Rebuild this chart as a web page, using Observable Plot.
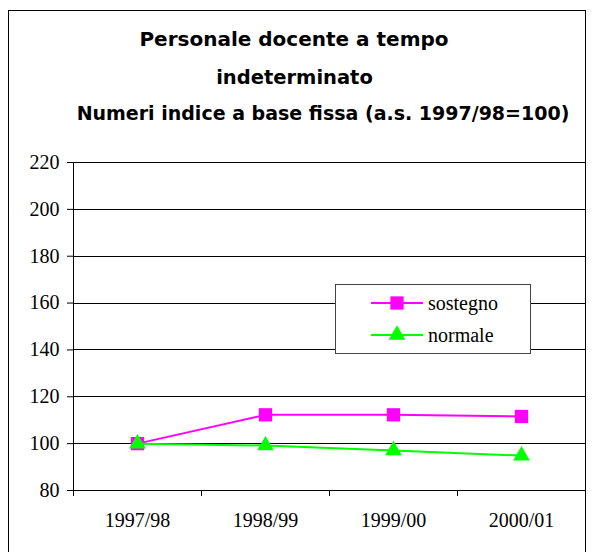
<!DOCTYPE html>
<html>
<head>
<meta charset="utf-8">
<script src="https://cdn.jsdelivr.net/npm/d3@7"></script>
<script src="https://cdn.jsdelivr.net/npm/@observablehq/plot@0.6"></script>
<style>
  html, body { margin: 0; padding: 0; background: #fff; }
  body { width: 593px; height: 552px; overflow: hidden; position: relative; }
  #frame { position: absolute; left: 8px; top: 10px; width: 576px; height: 560px; border: 1px solid #000; box-sizing: content-box; }
  .t { position: absolute; font-family: "DejaVu Sans", sans-serif; font-weight: bold; color: #000; white-space: nowrap; line-height: normal; }
  #chart { position: absolute; left: 0; top: 140px; }
  #legend { position: absolute; left: 335px; top: 284px; width: 194px; height: 68px; border: 1px solid #444; background: #fff;
            font-family: "Liberation Serif", serif; font-size: 20px; color: #000; }
  #legend .row { position: absolute; left: 0; height: 24px; }
  #legend svg { position: absolute; left: 35px; top: 0; }
  #legend span { position: absolute; left: 92px; top: 0; line-height: 24px; }
</style>
</head>
<body>
<div id="frame"></div>
<div class="t" id="t1" style="left:0;width:588px;text-align:center;top:27px;font-size:20px;">Personale docente a tempo</div>
<div class="t" id="t2" style="left:0;width:589px;text-align:center;top:66px;font-size:19.5px;">indeterminato</div>
<div class="t" id="t3" style="left:72px;width:502px;text-align:center;top:102px;font-size:19px;">Numeri indice a base fissa (a.s. 1997/98=100)</div>
<div id="chart"></div>
<div id="legend"></div>
<script>
const categories = ["1997/98", "1998/99", "1999/00", "2000/01"];
const sostegno = [100, 112.3, 112.3, 111.6];
const normale = [100, 99.2, 97.1, 94.9];
const yTicks = [80, 100, 120, 140, 160, 180, 200, 220];
const seriesNames = ["sostegno", "normale"];
const seriesColors = ["#FF00FF", "#00FF00"];

const rowsS = categories.map((c, i) => ({cat: c, i, value: sostegno[i]}));
const rowsN = categories.map((c, i) => ({cat: c, i, value: normale[i]}));
const xPos = d => d.i + 0.5;

const plot = Plot.plot({
  width: 593,
  height: 412,
  marginTop: 22,
  marginBottom: 62,
  marginLeft: 73,
  marginRight: 8,
  style: {fontFamily: "Liberation Serif, serif", fontSize: "20px", color: "#000", background: "transparent"},
  x: {domain: [0, categories.length]},
  y: {domain: [80, 220]},
  marks: [
    Plot.gridY({ticks: yTicks, stroke: "#000", strokeOpacity: 1, strokeWidth: 1}),
    Plot.axisY({ticks: yTicks, tickSize: 6, tickPadding: 8, label: null, fontSize: 20, stroke: "#000"}),
    Plot.axisX({ticks: d3.range(categories.length + 1), tickSize: 6, tickFormat: () => "", label: null, stroke: "#000"}),
    Plot.axisX({ticks: categories.map((c, i) => i + 0.5), tickSize: 0, tickPadding: 22, tickFormat: d => categories[Math.floor(d)], label: null, fontSize: 20}),
    Plot.ruleY([80], {stroke: "#000", strokeWidth: 1}),
    Plot.ruleX([0], {stroke: "#000", strokeWidth: 1}),
    Plot.line(rowsS, {x: xPos, y: "value", stroke: seriesColors[0], strokeWidth: 2}),
    Plot.dot(rowsS, {x: xPos, y: "value", symbol: "square", r: 7.5, fill: seriesColors[0], stroke: "none"}),
    Plot.line(rowsN, {x: xPos, y: "value", stroke: seriesColors[1], strokeWidth: 2}),
    Plot.dot(rowsN, {x: xPos, y: "value", symbol: "triangle", r: 6.2, fill: seriesColors[1], stroke: "none"})
  ]
});
plot.querySelectorAll("line").forEach(l => l.setAttribute("shape-rendering", "crispEdges"));
document.getElementById("chart").appendChild(plot);

// legend
const legend = document.getElementById("legend");
seriesNames.forEach((name, k) => {
  const row = document.createElement("div");
  row.className = "row";
  row.style.top = (6 + k * 32) + "px";
  row.style.width = "194px";
  const svg = d3.create("svg").attr("width", 54).attr("height", 24);
  svg.append("line").attr("x1", 0).attr("x2", 52).attr("y1", 12).attr("y2", 12)
    .attr("stroke", seriesColors[k]).attr("stroke-width", 2);
  const sym = k === 0 ? d3.symbolSquare : d3.symbolTriangle;
  const size = k === 0 ? Math.PI * 7.5 * 7.5 : Math.PI * 6.2 * 6.2;
  svg.append("path").attr("d", d3.symbol(sym, size)()).attr("transform", "translate(26,12)")
    .attr("fill", seriesColors[k]);
  row.appendChild(svg.node());
  const span = document.createElement("span");
  span.textContent = name;
  row.appendChild(span);
  legend.appendChild(row);
});
</script>
</body>
</html>
